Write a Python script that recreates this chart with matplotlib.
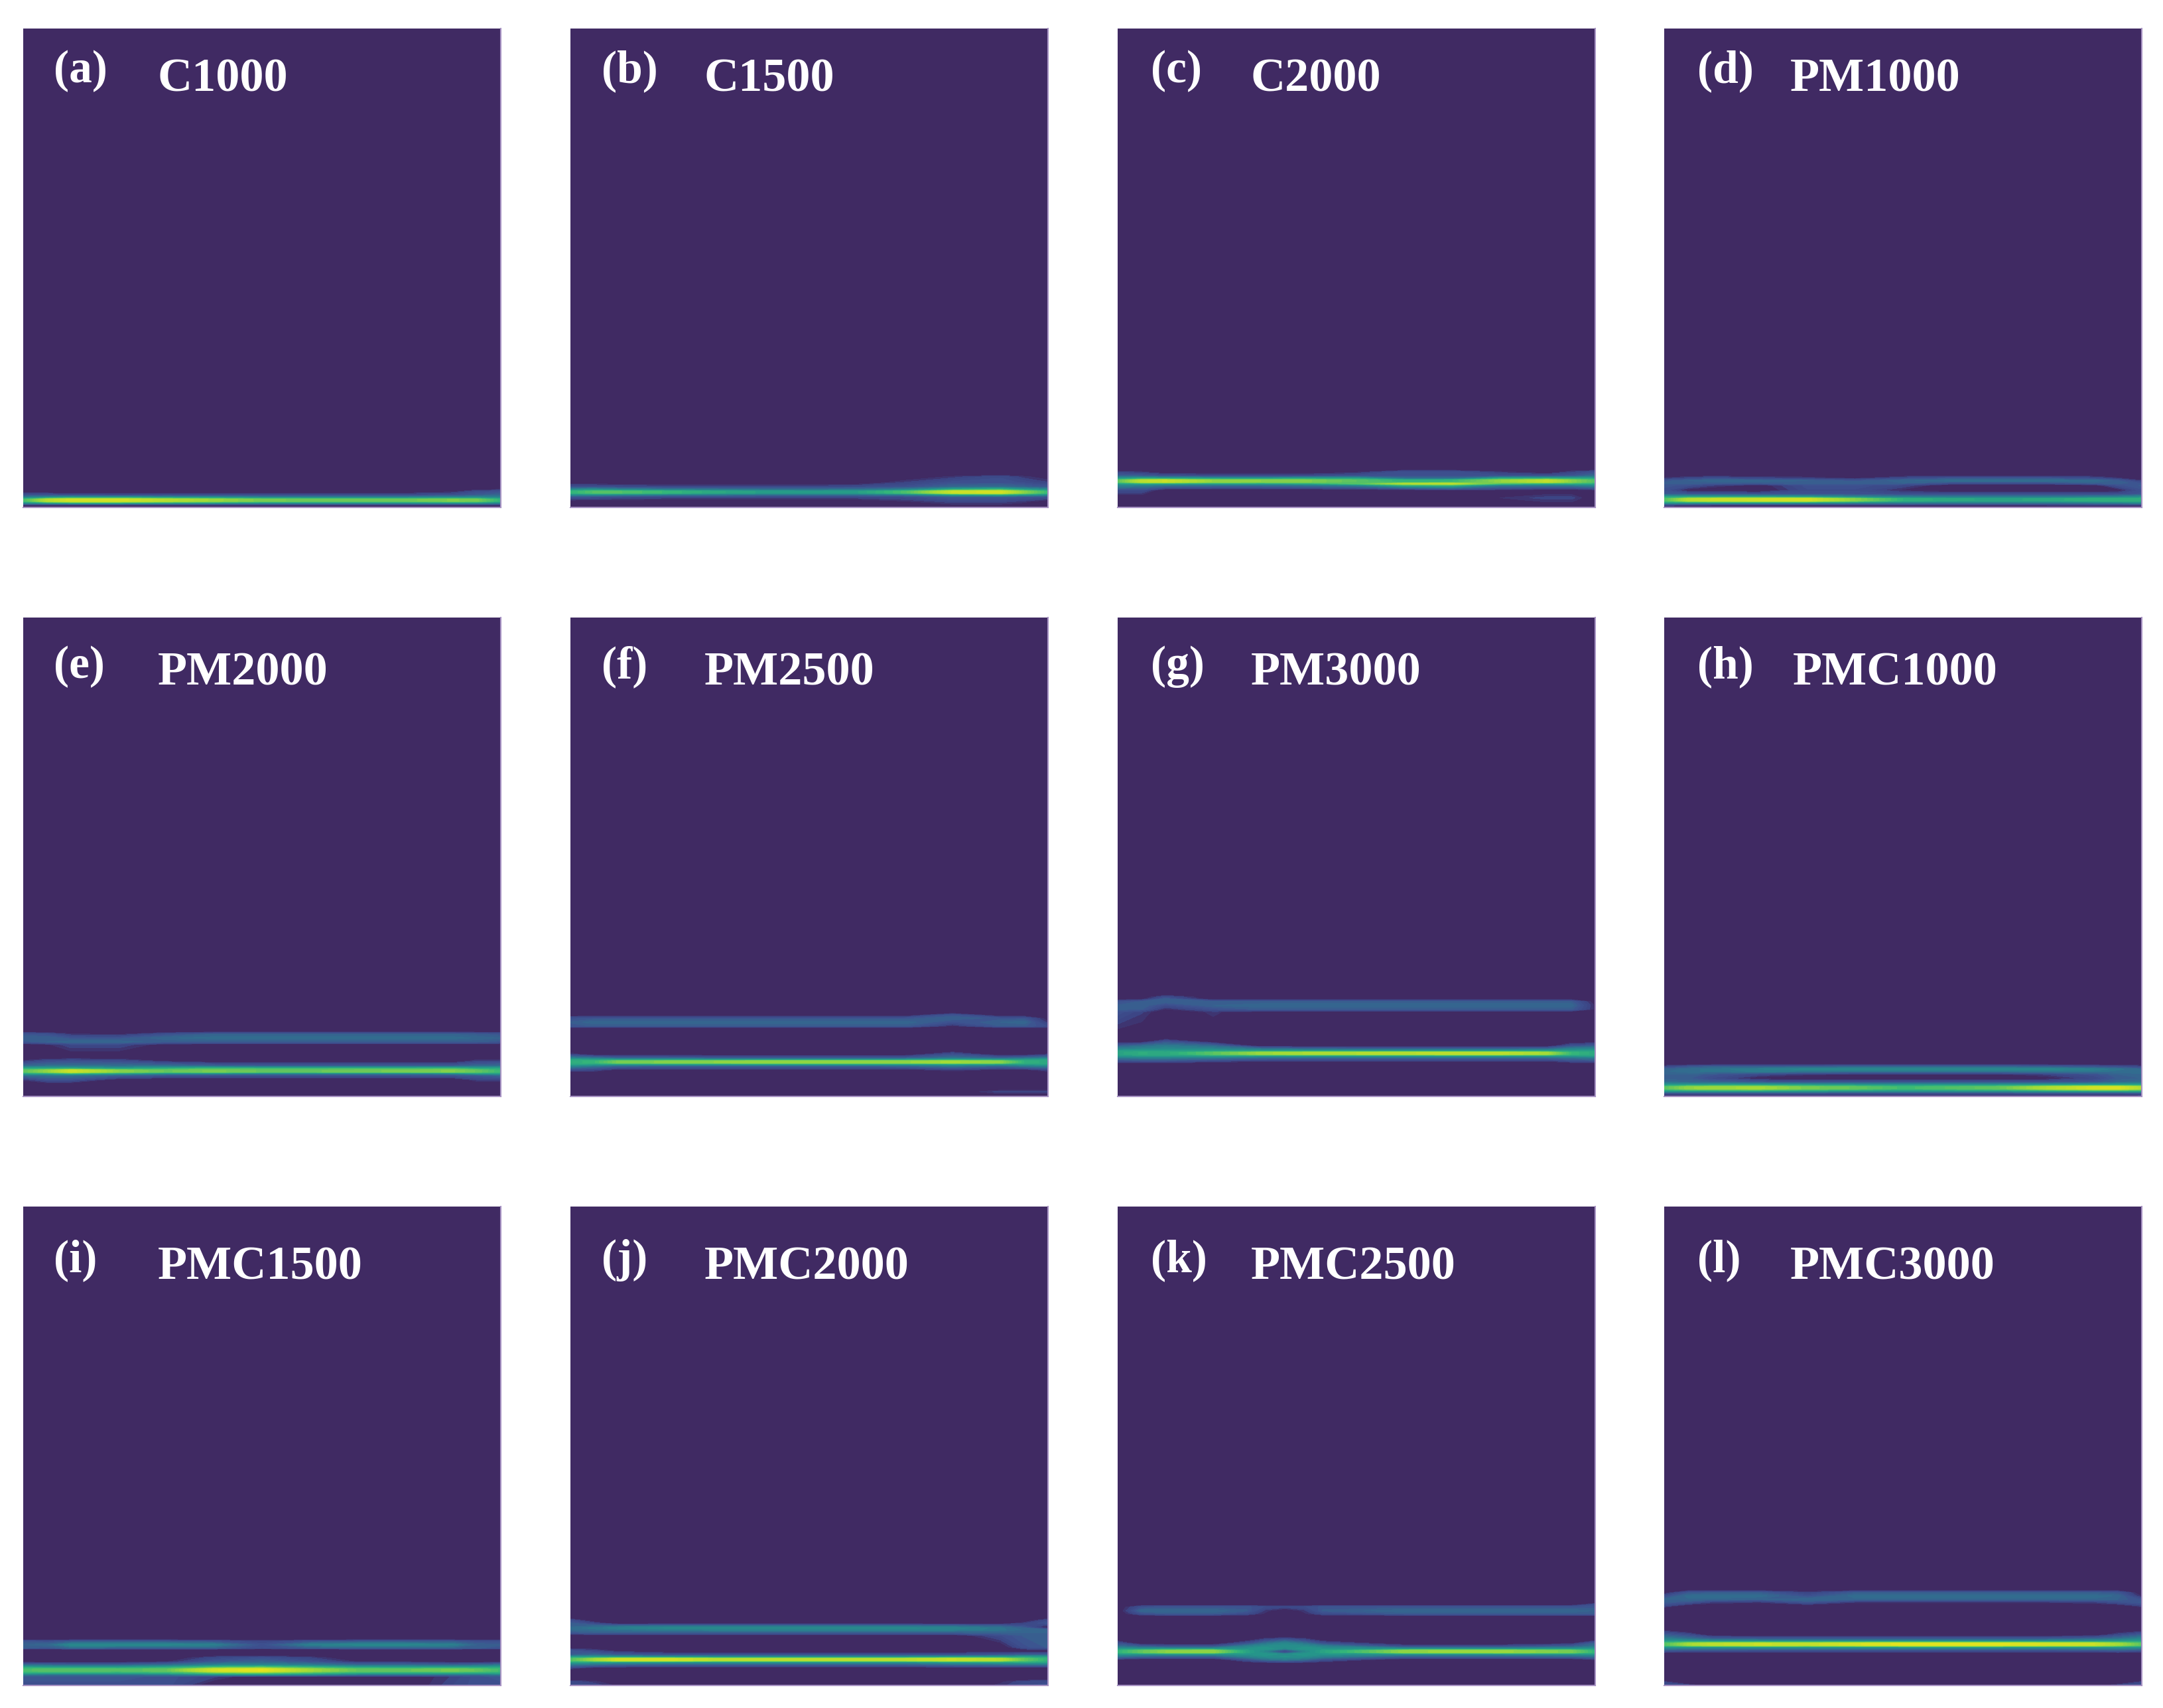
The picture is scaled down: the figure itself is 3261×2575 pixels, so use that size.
"""Twelve filled contour panels, bright bands near the bottom of each."""

import matplotlib
matplotlib.use('Agg')
import matplotlib.pyplot as plt
from matplotlib.colors import LinearSegmentedColormap
import numpy as np

# Values are percent of the colour range, rows go bottom to top.
x_pos = [0, 5, 10, 20, 30, 40, 50, 60, 70, 80, 90, 95, 100]
blank = [0] * 13

a_y = [0, 0.5, 0.9, 1.3, 1.7, 2.1, 2.6, 3.3, 4.0, 100]
a_z = [blank,
       [5, 5, 5, 5, 5, 5, 5, 5, 5, 5, 5, 5, 5],
       [32, 38, 42, 42, 38, 36, 32, 32, 32, 32, 34, 34, 30],
       [55, 82, 92, 92, 82, 74, 66, 64, 64, 64, 68, 66, 50],
       [55, 82, 92, 92, 82, 74, 66, 64, 64, 64, 68, 66, 50],
       [30, 36, 42, 42, 38, 36, 32, 32, 32, 32, 34, 34, 32],
       [14, 14, 12, 10, 12, 12, 12, 12, 12, 12, 14, 18, 22],
       [0, 0, 0, 0, 0, 0, 0, 0, 0, 0, 4, 12, 14],
       blank,
       blank]

b_y = [0, 1.2, 2.2, 2.7, 3.0, 3.4, 3.7, 4.3, 5.2, 6.4, 7.0, 100]
b_z = [blank,
       [0, 0, 0, 0, 0, 0, 0, 0, 4, 9, 9, 6, 0],
       [16, 14, 12, 10, 10, 10, 10, 10, 12, 18, 18, 16, 14],
       [36, 36, 34, 30, 28, 26, 26, 26, 30, 44, 50, 42, 36],
       [50, 58, 58, 52, 46, 42, 40, 42, 56, 88, 92, 70, 52],
       [50, 58, 58, 52, 46, 42, 40, 42, 56, 88, 92, 70, 52],
       [36, 38, 34, 30, 28, 26, 26, 26, 32, 50, 56, 44, 36],
       [14, 14, 12, 10, 10, 10, 10, 12, 14, 22, 24, 20, 16],
       [0, 0, 0, 0, 0, 0, 0, 0, 8, 14, 14, 12, 8],
       [0, 0, 0, 0, 0, 0, 0, 0, 0, 6, 12, 6, 2],
       blank,
       blank]

c_y = [0, 2, 3.6, 4.6, 4.95, 5.3, 5.7, 6.05, 6.6, 7.4, 8.0, 100]
c_z = [blank,
       [0, 0, 0, 0, 0, 0, 0, 0, 0, 5, 9, 9, 0],
       [12, 12, 0, 0, 0, 0, 0, 0, 4, 4, 0, 0, 4],
       [32, 30, 26, 24, 24, 26, 30, 48, 50, 28, 28, 28, 34],
       [40, 44, 42, 40, 40, 44, 58, 82, 86, 56, 44, 48, 46],
       [60, 84, 88, 72, 70, 68, 60, 50, 52, 72, 86, 70, 58],
       [60, 84, 88, 72, 70, 68, 60, 50, 52, 72, 86, 70, 58],
       [40, 46, 44, 42, 42, 44, 44, 26, 24, 46, 48, 46, 44],
       [20, 18, 14, 12, 12, 12, 14, 14, 14, 14, 14, 16, 24],
       [8, 6, 0, 0, 0, 0, 4, 14, 14, 6, 0, 8, 14],
       blank,
       blank]

d_y = [0, 0.5, 1.0, 1.4, 1.8, 2.2, 2.8, 3.6, 4.6, 5.1, 5.6, 6.1, 6.8, 100]
d_z = [blank,
       [10, 8, 6, 6, 6, 6, 6, 6, 6, 6, 8, 8, 8],
       [42, 40, 40, 40, 38, 34, 30, 28, 28, 28, 30, 32, 36],
       [58, 82, 88, 90, 92, 70, 50, 46, 44, 46, 50, 50, 50],
       [58, 82, 88, 90, 92, 70, 50, 46, 44, 46, 50, 50, 50],
       [44, 44, 44, 44, 42, 34, 30, 28, 28, 28, 30, 32, 36],
       [18, 16, 16, 14, 14, 14, 12, 12, 12, 12, 12, 12, 16],
       [14, 2, 0, 0, 12, 12, 4, 0, 0, 0, 0, 2, 14],
       [16, 14, 8, 2, 14, 14, 10, 0, 0, 0, 2, 14, 18],
       [18, 20, 18, 18, 20, 20, 20, 14, 14, 14, 20, 20, 14],
       [16, 20, 22, 22, 20, 16, 22, 24, 24, 24, 24, 18, 6],
       [6, 10, 14, 10, 8, 4, 12, 16, 16, 16, 12, 6, 0],
       blank,
       blank]

e_y = [0, 2.5, 3.5, 4.4, 4.8, 5.1, 5.5, 5.8, 6.4, 7.4, 8.2, 10.8, 11.4, 12.2, 13.0, 13.6, 100]
e_z = [blank,
       blank,
       [6, 14, 14, 2, 0, 0, 0, 0, 0, 0, 0, 8, 8],
       [24, 26, 26, 20, 16, 14, 14, 14, 14, 14, 16, 18, 22],
       [44, 46, 52, 42, 34, 34, 30, 30, 30, 30, 32, 42, 42],
       [60, 72, 90, 70, 62, 66, 62, 62, 64, 66, 68, 62, 52],
       [60, 72, 90, 70, 62, 66, 62, 62, 64, 66, 68, 62, 52],
       [48, 48, 50, 44, 50, 56, 54, 54, 54, 54, 56, 48, 46],
       [22, 24, 24, 24, 24, 20, 18, 18, 18, 18, 18, 22, 24],
       [6, 12, 14, 12, 4, 0, 0, 0, 0, 0, 0, 8, 8],
       blank,
       [0, 4, 10, 10, 2, 0, 0, 0, 0, 0, 0, 0, 0],
       [16, 20, 22, 22, 18, 18, 18, 18, 18, 18, 18, 18, 16],
       [20, 20, 16, 16, 22, 24, 24, 24, 24, 24, 24, 22, 20],
       [16, 14, 6, 4, 14, 20, 20, 20, 20, 20, 20, 18, 16],
       blank,
       blank]

f_y = [0, 1, 1.6, 4.8, 5.6, 6.3, 6.7, 7.0, 7.4, 7.7, 8.1, 8.8, 9.6, 14.2, 14.7, 15.5, 16.3, 17.0, 17.5, 100]
f_z = [blank,
       [0, 0, 0, 0, 0, 0, 0, 0, 0, 0, 9, 9, 9],
       blank,
       blank,
       [12, 10, 4, 4, 4, 4, 4, 4, 4, 8, 4, 4, 10],
       [32, 26, 20, 18, 18, 18, 18, 18, 20, 26, 20, 26, 30],
       [44, 42, 38, 38, 38, 38, 38, 38, 38, 40, 38, 40, 44],
       [48, 52, 66, 68, 70, 72, 72, 72, 72, 76, 70, 50, 46],
       [48, 52, 66, 68, 70, 72, 72, 72, 72, 76, 70, 50, 46],
       [44, 42, 40, 38, 38, 38, 38, 38, 38, 42, 38, 40, 44],
       [28, 24, 18, 18, 16, 16, 16, 16, 16, 24, 18, 22, 26],
       [8, 0, 0, 0, 0, 0, 0, 0, 0, 14, 0, 0, 6],
       blank,
       blank,
       [16, 18, 18, 18, 18, 18, 18, 18, 18, 4, 18, 18, 12],
       [18, 22, 22, 22, 22, 22, 22, 22, 22, 14, 20, 22, 6],
       [14, 16, 16, 16, 16, 16, 16, 16, 16, 20, 16, 16, 2],
       [0, 0, 0, 0, 0, 0, 0, 0, 0, 16, 0, 0, 0],
       blank,
       blank]

g_y = [0, 6.8, 7.4, 8.1, 8.5, 8.8, 9.2, 9.5, 10.0, 10.6, 11.5, 12.2, 17.6, 18.2, 19, 19.8, 20.4, 20.8, 21.4, 100]
g_z = [blank,
       blank,
       [12, 14, 14, 10, 6, 6, 6, 6, 6, 6, 6, 12, 14],
       [28, 30, 30, 28, 24, 22, 22, 22, 22, 22, 22, 26, 28],
       [40, 42, 42, 44, 42, 42, 40, 40, 40, 40, 42, 42, 42],
       [44, 48, 46, 60, 74, 78, 80, 82, 84, 84, 76, 52, 46],
       [44, 48, 46, 60, 74, 78, 80, 82, 84, 84, 76, 52, 46],
       [42, 42, 42, 42, 42, 40, 40, 40, 40, 40, 42, 42, 42],
       [30, 32, 34, 32, 24, 20, 18, 18, 18, 18, 20, 30, 32],
       [18, 24, 28, 22, 0, 0, 0, 0, 0, 0, 0, 14, 18],
       [0, 0, 14, 0, 0, 0, 0, 0, 0, 0, 0, 0, 0],
       blank,
       [14, 8, 0, 6, 0, 0, 0, 0, 0, 0, 0, 0, 0],
       [18, 18, 4, 14, 18, 18, 18, 18, 18, 18, 18, 18, 4],
       [18, 20, 12, 20, 22, 22, 22, 22, 22, 22, 22, 22, 4],
       [14, 18, 20, 18, 18, 18, 18, 18, 18, 18, 18, 18, 2],
       [0, 2, 18, 0, 0, 0, 0, 0, 0, 0, 0, 0, 0],
       [0, 0, 12, 0, 0, 0, 0, 0, 0, 0, 0, 0, 0],
       blank,
       blank]

h_y = [0, 0.6, 1.1, 1.6, 2.0, 2.4, 3.0, 3.8, 4.6, 5.2, 5.7, 6.2, 6.8, 100]
h_z = [[4, 4, 4, 4, 4, 4, 4, 4, 4, 4, 4, 4, 4],
       [10, 10, 10, 10, 10, 10, 10, 10, 10, 10, 10, 10, 12],
       [38, 38, 40, 40, 38, 36, 36, 36, 36, 40, 42, 42, 42],
       [60, 72, 74, 76, 66, 62, 54, 58, 62, 80, 92, 94, 80],
       [60, 72, 74, 76, 66, 62, 54, 58, 62, 80, 92, 94, 80],
       [40, 42, 44, 44, 42, 40, 40, 40, 40, 42, 44, 44, 44],
       [24, 22, 20, 16, 14, 14, 14, 14, 14, 14, 16, 22, 24],
       [18, 18, 12, 2, 0, 0, 0, 0, 0, 2, 10, 18, 20],
       [20, 20, 16, 10, 6, 4, 4, 4, 4, 8, 14, 20, 22],
       [22, 24, 26, 28, 26, 24, 24, 24, 24, 26, 26, 24, 24],
       [20, 24, 26, 30, 34, 34, 34, 34, 34, 34, 30, 26, 22],
       [10, 16, 20, 20, 20, 22, 22, 22, 22, 20, 16, 14, 10],
       blank,
       blank]

i_y = [0, 1.8, 2.2, 2.6, 3.0, 3.4, 3.8, 4.3, 5.0, 5.8, 6.4, 7.5, 7.8, 8.5, 9.2, 9.7, 100]
i_z = [[14, 14, 14, 14, 14, 0, 0, 0, 0, 0, 10, 14, 14],
       [16, 16, 16, 16, 14, 8, 0, 0, 0, 0, 8, 14, 16],
       [26, 24, 22, 22, 26, 32, 34, 30, 24, 22, 22, 22, 26],
       [46, 44, 44, 44, 48, 58, 62, 54, 46, 44, 44, 44, 46],
       [56, 60, 60, 58, 62, 92, 98, 76, 62, 62, 66, 62, 54],
       [56, 60, 60, 58, 62, 92, 98, 76, 62, 62, 66, 62, 54],
       [44, 42, 42, 42, 46, 56, 60, 52, 44, 42, 42, 42, 44],
       [24, 22, 20, 20, 24, 30, 32, 28, 22, 22, 20, 22, 26],
       [0, 0, 0, 0, 4, 16, 20, 14, 4, 4, 0, 0, 0],
       [0, 0, 0, 0, 0, 10, 14, 8, 0, 0, 0, 0, 0],
       blank,
       blank,
       [18, 16, 22, 20, 20, 20, 12, 18, 20, 20, 20, 18, 16],
       [20, 22, 34, 34, 34, 30, 14, 30, 34, 34, 30, 20, 18],
       [16, 14, 18, 18, 18, 16, 10, 16, 18, 18, 18, 14, 14],
       blank,
       blank]

j_y = [0, 0.8, 1.4, 3.0, 3.6, 4.4, 4.9, 5.2, 5.6, 5.9, 6.4, 7.2, 8.0, 10.4, 11.0, 11.6, 12.0, 12.4, 13.0, 13.6, 14.2, 100]
j_z = [[12, 10, 4, 0, 0, 0, 0, 0, 0, 0, 6, 12, 14],
       [10, 6, 0, 0, 0, 0, 0, 0, 0, 0, 4, 10, 12],
       blank,
       blank,
       [8, 0, 0, 0, 0, 0, 0, 0, 0, 0, 0, 0, 0],
       [28, 26, 22, 20, 20, 20, 20, 20, 20, 24, 26, 28, 28],
       [46, 44, 42, 40, 38, 38, 38, 38, 38, 44, 46, 48, 46],
       [58, 76, 92, 92, 84, 84, 84, 84, 84, 88, 82, 62, 50],
       [58, 76, 92, 92, 84, 84, 84, 84, 84, 88, 82, 62, 50],
       [44, 44, 44, 42, 40, 40, 40, 40, 40, 44, 44, 46, 44],
       [18, 22, 18, 14, 14, 14, 14, 14, 14, 14, 16, 20, 20],
       [16, 10, 4, 0, 0, 0, 0, 0, 0, 0, 0, 0, 0],
       [0, 0, 0, 0, 0, 0, 0, 0, 0, 0, 0, 14, 18],
       [0, 0, 0, 0, 0, 0, 0, 0, 0, 0, 12, 18, 20],
       [16, 18, 18, 18, 18, 18, 18, 18, 18, 18, 20, 20, 20],
       [22, 24, 26, 28, 30, 30, 30, 30, 30, 30, 26, 22, 22],
       [24, 26, 30, 34, 34, 34, 34, 34, 34, 32, 26, 20, 4],
       [20, 22, 24, 26, 26, 26, 26, 26, 26, 24, 20, 14, 4],
       [18, 10, 0, 0, 0, 0, 0, 0, 0, 0, 0, 8, 16],
       [12, 0, 0, 0, 0, 0, 0, 0, 0, 0, 0, 0, 12],
       blank,
       blank]

k_x = [0, 5, 10, 20, 27, 31, 35, 39, 43, 60, 80, 95, 100]
k_y = [0, 4.6, 5.4, 6.0, 6.5, 6.9, 7.3, 7.7, 8.2, 8.8, 9.6, 10.2, 14.4, 15.0, 15.6, 16.4, 16.9, 17.4, 100]
k_z = [blank,
       blank,
       [4, 0, 0, 0, 14, 24, 28, 24, 14, 0, 0, 0, 6],
       [24, 20, 18, 18, 30, 36, 38, 36, 30, 18, 18, 20, 24],
       [38, 36, 36, 36, 38, 40, 36, 40, 38, 34, 34, 36, 38],
       [50, 62, 70, 72, 44, 34, 12, 34, 44, 72, 74, 66, 50],
       [50, 62, 70, 72, 44, 34, 12, 34, 44, 72, 74, 66, 50],
       [38, 36, 36, 36, 38, 40, 34, 40, 38, 34, 34, 36, 38],
       [24, 18, 14, 14, 30, 36, 36, 36, 30, 12, 12, 18, 26],
       [14, 0, 0, 0, 14, 26, 34, 26, 14, 0, 0, 4, 20],
       [0, 0, 0, 0, 0, 10, 16, 10, 0, 0, 0, 0, 0],
       blank,
       blank,
       [0, 14, 18, 18, 12, 4, 0, 4, 12, 18, 18, 18, 18],
       [0, 22, 22, 22, 18, 6, 0, 6, 18, 22, 22, 22, 20],
       [0, 14, 16, 16, 16, 12, 10, 12, 16, 16, 16, 16, 16],
       [0, 0, 0, 0, 0, 0, 0, 0, 0, 0, 0, 0, 12],
       blank,
       blank]

l_y = [0, 0.6, 1.2, 6.6, 7.2, 8.0, 8.4, 8.8, 9.2, 9.8, 10.6, 11.4, 12.0, 16.0, 16.6, 17.4, 18.0, 18.7, 19.4, 20.0, 100]
l_z = [[14, 10, 0, 0, 0, 0, 0, 0, 0, 0, 0, 10, 14],
       [10, 0, 0, 0, 0, 0, 0, 0, 0, 0, 0, 0, 10],
       blank,
       blank,
       [14, 12, 12, 10, 10, 10, 10, 10, 10, 10, 12, 14, 12],
       [36, 36, 36, 36, 36, 36, 38, 38, 38, 36, 38, 38, 36],
       [58, 76, 84, 88, 86, 92, 96, 96, 96, 92, 88, 76, 60],
       [58, 76, 84, 88, 86, 92, 96, 96, 96, 92, 88, 76, 60],
       [42, 42, 40, 38, 38, 38, 38, 38, 38, 38, 40, 42, 44],
       [30, 24, 18, 16, 16, 16, 16, 16, 16, 16, 20, 24, 32],
       [18, 12, 0, 0, 0, 0, 0, 0, 0, 0, 0, 10, 18],
       [6, 0, 0, 0, 0, 0, 0, 0, 0, 0, 0, 0, 4],
       blank,
       blank,
       [10, 0, 0, 0, 0, 0, 0, 0, 0, 0, 0, 0, 8],
       [18, 16, 8, 6, 16, 6, 6, 6, 6, 6, 8, 14, 18],
       [20, 22, 22, 20, 22, 22, 22, 22, 22, 22, 22, 20, 14],
       [12, 24, 24, 24, 14, 24, 24, 24, 24, 24, 24, 22, 4],
       [2, 16, 18, 18, 8, 18, 18, 18, 18, 18, 18, 16, 0],
       blank,
       blank]

tags = ['(a)', '(b)', '(c)', '(d)', '(e)', '(f)', '(g)', '(h)', '(i)', '(j)', '(k)', '(l)']
names = ['C1000', 'C1500', 'C2000', 'PM1000',
         'PM2000', 'PM2500', 'PM3000', 'PMC1000',
         'PMC1500', 'PMC2000', 'PMC2500', 'PMC3000']
xs = [x_pos] * 10 + [k_x, x_pos]
ys = [a_y, b_y, c_y, d_y, e_y, f_y, g_y, h_y, i_y, j_y, k_y, l_y]
zs = [a_z, b_z, c_z, d_z, e_z, f_z, g_z, h_z, i_z, j_z, k_z, l_z]

W, H = 3262, 2575
col_left = [35, 860, 1685, 2509]
row_top = [43, 931, 1819]
panel_w, panel_h = 720, 722
tag_x = [81, 907, 1735, 2559]
name_x = [238, 1062, 1886, 2699]
tag_y = [107, 1005, 1900]
name_y = [120, 1015, 1911]

cmap = LinearSegmentedColormap.from_list('washed', [
    (0.0, '#402a63'), (0.05, '#402a63'), (0.08, '#3c4484'), (0.15, '#3d5290'),
    (0.28, '#2c7a8e'), (0.4, '#24988a'), (0.52, '#35b779'), (0.75, '#a0da39'),
    (1.0, '#ece51b')])
levels = np.linspace(0, 100, 41)

fig = plt.figure(figsize=(W / 100, H / 100), dpi=100)
plt.rcParams['font.family'] = ['Liberation Serif', 'DejaVu Serif']

for n in range(12):
    r, c = n // 4, n % 4
    ax = fig.add_axes([col_left[c] / W, 1 - (row_top[r] + panel_h) / H,
                       panel_w / W, panel_h / H])
    ax.contourf(xs[n], ys[n], np.array(zs[n]), levels=levels, cmap=cmap,
                vmin=0, vmax=100, antialiased=False)
    ax.set_xlim(0, 100)
    ax.set_ylim(0, 100)
    ax.set_xticks([])
    ax.set_yticks([])
    for side in ['top', 'left']:
        ax.spines[side].set_visible(False)
    for side in ['bottom', 'right']:
        ax.spines[side].set_color('#a893c4')
        ax.spines[side].set_linewidth(1.5)

    fig.text(tag_x[c] / W, 1 - tag_y[r] / H, tags[n], color='white', fontsize=50,
             fontweight='bold', ha='left', va='center')
    nudge = 4 if names[n] == 'PMC1000' else 0
    fig.text((name_x[c] + nudge) / W, 1 - name_y[r] / H, names[n], color='white', fontsize=52,
             fontweight='bold', ha='left', va='center')

fig.savefig('out.png', dpi=100, facecolor='white')
plt.close()
